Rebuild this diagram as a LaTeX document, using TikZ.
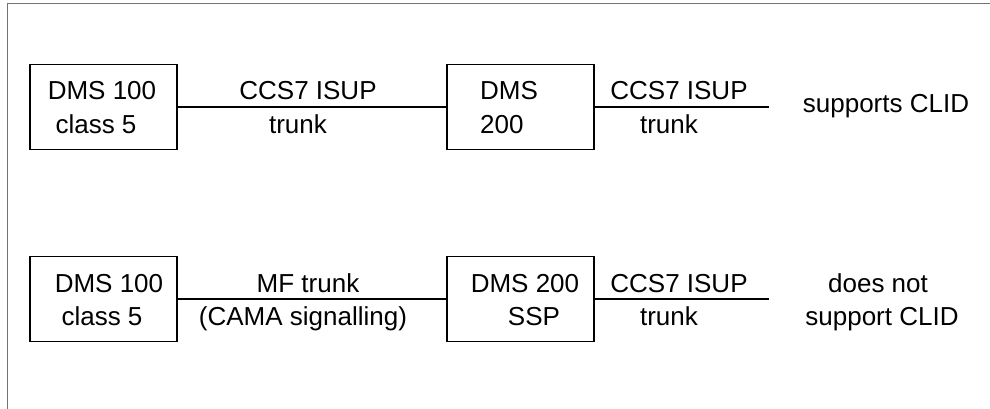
\documentclass[tikz,border=0pt]{standalone}
\usepackage{fontspec}
\setmainfont{Liberation Sans}
\begin{document}
\begin{tikzpicture}[x=1pt,y=-1pt,
  box/.style={draw=black,line width=1.3pt,minimum width=147pt,minimum height=85pt,inner sep=0pt,outer sep=0pt},
  lbl/.style={anchor=base,inner sep=0pt,font=\fontsize{26}{31}\selectfont},
  conn/.style={draw=black,line width=1.1pt},
  frame/.style={draw=black!55,line width=1pt}]
\useasboundingbox (0,0) rectangle (990,409);
\draw[frame] (7,409) -- (7,3.5) -- (990,3.5);
% top row
\node[box] (b1) at (103.5,107) {};
\node[box] (b2) at (520.5,107) {};
\coordinate (e1) at (769,107);
\draw[conn] (b1.east) -- (b2.west);
\draw[conn] (b2.east) -- (e1);
\node[lbl] (t1a) at (102,100) {DMS 100};
\node[lbl] (t1b) at (96,133) {class 5};
\node[lbl,anchor=base west] (t2a) at (480,100) {DMS};
\node[lbl,anchor=base west] (t2b) at (480,133) {200};
\node[lbl] (c1a) at (308,100) {CCS7 ISUP};
\node[lbl] (c1b) at (298,133) {trunk};
\node[lbl] (c2a) at (679,100) {CCS7 ISUP};
\node[lbl] (c2b) at (669,133) {trunk};
\node[lbl] (r1) at (886,113) {supports CLID};
% bottom row
\node[box] (b3) at (103.5,299) {};
\node[box] (b4) at (520.5,299) {};
\coordinate (e2) at (769,299);
\draw[conn] (b3.east) -- (b4.west);
\draw[conn] (b4.east) -- (e2);
\node[lbl] (t3a) at (109,292) {DMS 100};
\node[lbl] (t3b) at (102,325) {class 5};
\node[lbl] (t4a) at (525,292) {DMS 200};
\node[lbl] (t4b) at (534,325) {SSP};
\node[lbl] (c3a) at (308,292) {MF trunk};
\node[lbl] (c3b) at (303,325) {(CAMA signalling)};
\node[lbl] (c4a) at (679,292) {CCS7 ISUP};
\node[lbl] (c4b) at (669,325) {trunk};
\node[lbl] (r2a) at (878,292) {does not};
\node[lbl] (r2b) at (882,325) {support CLID};
\end{tikzpicture}
\end{document}
